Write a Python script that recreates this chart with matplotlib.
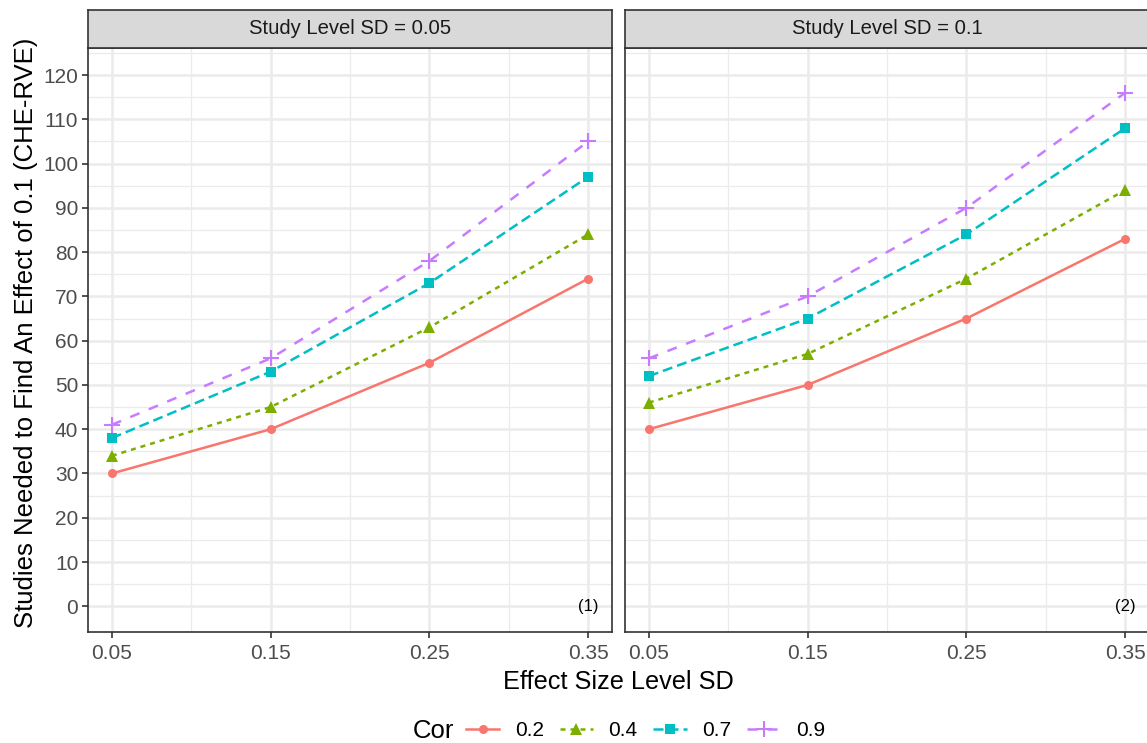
import numpy as np
import matplotlib
matplotlib.use("Agg")
import matplotlib.pyplot as plt
from matplotlib.lines import Line2D

# data
x_sd = [0.05, 0.15, 0.25, 0.35]
cor_levels = ["0.2", "0.4", "0.7", "0.9"]
panel_titles = ["Study Level SD = 0.05", "Study Level SD = 0.1"]
panel_tags = ["(1)", "(2)"]

p1_02 = [30, 40, 55, 74]
p1_04 = [34, 45, 63, 84]
p1_07 = [38, 53, 73, 97]
p1_09 = [41, 56, 78, 105]

p2_02 = [40, 50, 65, 83]
p2_04 = [46, 57, 74, 94]
p2_07 = [52, 65, 84, 108]
p2_09 = [56, 70, 90, 116]

panels = [[p1_02, p1_04, p1_07, p1_09], [p2_02, p2_04, p2_07, p2_09]]

colors  = ["#F8766D", "#7CAE00", "#00BFC4", "#C77CFF"]
markers = ["o", "^", "s", "+"]
msizes  = [6.5, 8, 7, 12]
dashes  = [None, (2, 2), (4, 2), (4, 4)]

W, H = 1147, 743
fig = plt.figure(figsize=(W/100, H/100), dpi=100)
plt.rcParams['font.family'] = ['Liberation Sans', 'DejaVu Sans']

lefts = [88, 625]
pw = 524
top_px, bot_px = 48, 632
strip_top = 10

for k, (left, series) in enumerate(zip(lefts, panels)):
    ax = fig.add_axes([left/W, 1 - bot_px/H, pw/W, (bot_px - top_px)/H])
    for vals, c, m, ms, d, lab in zip(series, colors, markers, msizes, dashes, cor_levels):
        ln, = ax.plot(x_sd, vals, color=c, lw=1.8, marker=m, ms=ms, mew=1.5 if m == "+" else 0, label=lab)
        if d is not None:
            ln.set_dashes(d)
    ax.set_xlim(0.035, 0.365)
    ax.set_ylim(-5.8, 126.1)
    ax.set_xticks(x_sd)
    ax.set_xticklabels(["0.05", "0.15", "0.25", "0.35"])
    ax.set_xticks([0.1, 0.2, 0.3], minor=True)
    ax.set_yticks(np.arange(0, 121, 10))
    ax.set_yticks(np.arange(5, 126, 10), minor=True)
    ax.grid(True, which="major", color="#EBEBEB", lw=1.8, zorder=0)
    ax.grid(True, which="minor", color="#EBEBEB", lw=0.9, zorder=0)
    ax.set_axisbelow(True)
    ax.tick_params(which="major", length=4, width=1.2, color="#333333", labelsize=15, labelcolor="#4D4D4D", pad=3)
    ax.tick_params(axis="x", pad=4.5)
    ax.tick_params(which="minor", length=0)
    if k == 1:
        ax.tick_params(axis="y", left=False, labelleft=False)
    for s in ax.spines.values():
        s.set_color("#333333")
        s.set_linewidth(1.2)
    ax.text(0.35, 0, panel_tags[k], ha="center", va="center", fontsize=12, color="black")

    # facet strip
    sax = fig.add_axes([left/W, 1 - top_px/H, pw/W, (top_px - strip_top)/H])
    sax.set_facecolor("#D9D9D9")
    sax.set_xticks([])
    sax.set_yticks([])
    for s in sax.spines.values():
        s.set_color("#333333")
        s.set_linewidth(1.2)
    sax.text(0.5, 0.5, panel_titles[k], ha="center", va="center", fontsize=14.6, color="#1A1A1A", transform=sax.transAxes)

fig.text(26/W, 1 - 333/H, "Studies Needed to Find An Effect of 0.1 (CHE-RVE)", rotation=90,
         ha="center", va="center", fontsize=18.5)
fig.text(618/W, 1 - 682/H, "Effect Size Level SD", ha="center", va="center", fontsize=18.2)

handles = []
for c, m, ms, d, lab in zip(colors, markers, msizes, dashes, cor_levels):
    h = Line2D([0], [0], color=c, lw=1.8, marker=m, ms=ms, mew=1.5 if m == "+" else 0)
    if d is not None:
        h.set_dashes(d)
    handles.append(h)
fig.text(433/W, 1 - 731/H, "Cor", ha="center", va="center", fontsize=18.5)
fig.legend(handles, cor_levels, loc="center left", bbox_to_anchor=(466/W, 1 - 731/H), ncol=4,
           frameon=False, fontsize=15, handlelength=1.6, columnspacing=0.75, handletextpad=0.75,
           borderpad=0, borderaxespad=0)

fig.savefig("out.png", dpi=100)
